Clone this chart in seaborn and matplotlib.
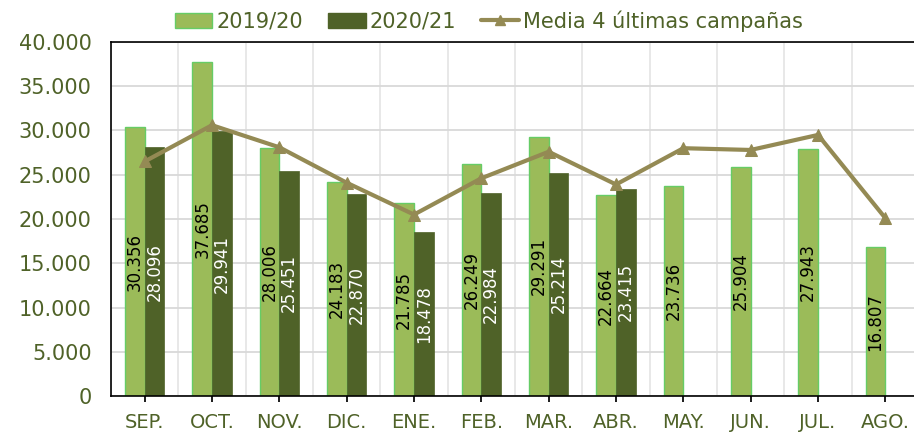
import numpy as np
import pandas as pd
import matplotlib
matplotlib.use("Agg")
import matplotlib.pyplot as plt
import seaborn as sns
from matplotlib.lines import Line2D
from matplotlib.patches import Patch

# data
meses = ["SEP.", "OCT.", "NOV.", "DIC.", "ENE.", "FEB.", "MAR.", "ABR.",
         "MAY.", "JUN.", "JUL.", "AGO."]
v_1920 = [30356, 37685, 28006, 24183, 21785, 26249, 29291, 22664,
          23736, 25904, 27943, 16807]
v_2021 = [28096, 29941, 25451, 22870, 18478, 22984, 25214, 23415,
          np.nan, np.nan, np.nan, np.nan]
media = [26500, 30600, 28100, 24100, 20500, 24600, 27600, 23900,
         28000, 27800, 29500, 20100]

light = "#9BBB59"
dark = "#4F6228"
line_c = "#948A54"
txt_c = "#4F6228"

df = pd.DataFrame({
    "mes": meses * 2,
    "valor": v_1920 + v_2021,
    "campaña": ["2019/20"] * 12 + ["2020/21"] * 12,
})

sns.set_theme(style="white")
plt.rcParams["font.family"] = ["DejaVu Sans"]

fig = plt.figure(figsize=(9.14, 4.36), dpi=100)
ax = fig.add_axes([111 / 914, 40 / 436, 808 / 914, 354 / 436])

sns.barplot(data=df, x="mes", y="valor", hue="campaña", order=meses,
            hue_order=["2019/20", "2020/21"], palette=[light, dark],
            width=0.58, saturation=1, ax=ax, legend=False)

for bar in ax.containers[0]:
    bar.set_edgecolor("#66CC66")
    bar.set_linewidth(1)
for bar in ax.containers[1]:
    bar.set_edgecolor(dark)
    bar.set_linewidth(0.5)

fmt = lambda v: "" if np.isnan(v) else f"{v:,.0f}".replace(",", ".")
ax.bar_label(ax.containers[0], fmt=fmt, label_type="center", rotation=90,
             fontsize=12, color="black")
ax.bar_label(ax.containers[1], fmt=fmt, label_type="center", rotation=90,
             fontsize=12, color="white")

sns.lineplot(x=np.arange(len(meses)), y=media, color=line_c, linewidth=3,
             marker="^", markersize=9, markeredgecolor=line_c, ax=ax,
             zorder=5)

ax.set_xlim(-0.5, 11.5)
ax.set_ylim(0, 40000)
ax.set_yticks(np.arange(0, 40001, 5000))
ax.set_yticklabels([f"{v:,.0f}".replace(",", ".") for v in range(0, 40001, 5000)])
ax.set_xticks(np.arange(12))
ax.set_xticks(np.arange(-0.5, 12, 0.5), minor=True)
ax.set_xticklabels(meses)
ax.set_xlabel("")
ax.set_ylabel("")

ax.grid(axis="y", color="#D9D9D9", linewidth=1.3)
ax.grid(axis="x", which="minor", color="#E6E6E6", linewidth=1.3)
ax.set_axisbelow(True)

for s in ax.spines.values():
    s.set_color("black")
    s.set_linewidth(1.2)

ax.tick_params(axis="x", which="major", length=4, color="black", direction="out",
               labelsize=14, labelcolor=txt_c, pad=8, bottom=True)
ax.tick_params(axis="x", which="minor", length=0)
ax.tick_params(axis="y", length=0, labelsize=15, labelcolor=txt_c, pad=14)

handles = [
    Patch(facecolor=light, edgecolor="#66CC66", label="2019/20"),
    Patch(facecolor=dark, edgecolor=dark, label="2020/21"),
    Line2D([0], [0], color=line_c, linewidth=3, marker="^", markersize=7,
           label="Media 4 últimas campañas"),
]
leg = fig.legend(handles=handles, loc="upper center", bbox_to_anchor=(0.535, 1.02),
                 ncol=3, frameon=False, fontsize=15, handlelength=1.8,
                 handletextpad=0.2, columnspacing=1.2, handleheight=0.7)
for t in leg.get_texts():
    t.set_color(txt_c)

fig.savefig("out.png", dpi=100)
